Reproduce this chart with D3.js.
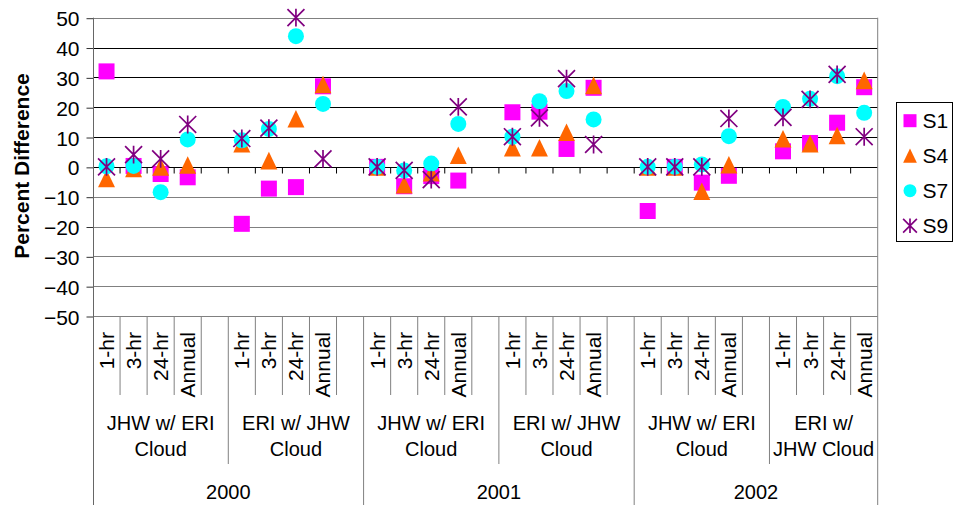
<!DOCTYPE html>
<html>
<head>
<meta charset="utf-8">
<script src="https://cdn.jsdelivr.net/npm/d3@7"></script>
<style>
body { margin: 0; background: #fff; }
text { font-family: "Liberation Sans", Arial, sans-serif; fill: #000; }
</style>
</head>
<body>
<div id="chart"></div>
<script>
// labels for the three levels of the category axis
var years = ["2000", "2001", "2002"];
var groupLabels = [
	["JHW w/ ERI", "Cloud"], ["ERI w/ JHW", "Cloud"],
	["JHW w/ ERI", "Cloud"], ["ERI w/ JHW", "Cloud"],
	["JHW w/ ERI", "Cloud"], ["ERI w/", "JHW Cloud"]
];
var periods = ["1-hr", "3-hr", "24-hr", "Annual"];
var yTicks = [50, 40, 30, 20, 10, 0, -10, -20, -30, -40, -50];

// percent difference, 4 periods per group, groups in order
var s1 = [32, 0.3, -2.4, -3.5,   -19.1, -7.3, -6.8, 27,    0, -6.5, -3.1, -4.6,   18.3, 18.5, 6, 26.5,    -14.8, 0, -5.3, -3,   5.2, 8, 14.8, 26.7];
var s4 = [-3.9, -0.5, 0, 0.6,    7.8, 2.1, 16.1, 27.6,     0, -6, -2, 3.9,        6.4, 6.4, 11.6, 27.3,   0, 0, -8.2, 0.7,      9.4, 7.8, 10.5, 29];
var s7 = [0.2, 0.3, -8.5, 9.2,   8.9, 12.7, 43.8, 21.1,    0, -1.2, 1.1, 14.4,    10.1, 22, 25.4, 15.9,   0, 0, 0.8, 10.3,      20.1, 22.8, 30.4, 18.1];
var s9 = [0, 4.1, 2.7, 14.2,     9.5, 13, 50, 2.7,         0, -1.2, -4.3, 20.1,   10.1, 16.4, 29.6, 7.5,  0, 0, 0, 16.2,        16.6, 22.6, 31, 10.1];

var seriesNames = ["S1", "S4", "S7", "S9"];
var seriesValues = [s1, s4, s7, s9];
var seriesShapes = ["square", "triangle", "circle", "star"];
var seriesColors = ["#ff00ff", "#ff6600", "#00ffff", "#800080"];

var svgWidth = 953;
var svgHeight = 505;
var plot = {left: 93, right: 877.7, top: 17.7, bottom: 316};
var slotsPerGroup = 5; // 4 periods + one empty gap
var nSlots = groupLabels.length * slotsPerGroup - 1;

var svg = d3.select("#chart")
	.append("svg")
	.attr("width", svgWidth)
	.attr("height", svgHeight);

var xScale = d3.scaleBand()
	.domain(d3.range(nSlots))
	.range([plot.left, plot.right]);

var yScale = d3.scaleLinear()
	.domain([-50, 50])
	.range([plot.bottom, plot.top]);

function slotEdge(k) {
	return plot.left + k * xScale.bandwidth();
}

// gridlines
svg.selectAll("line.grid")
	.data(yTicks)
	.enter()
	.append("line")
	.attr("class", "grid")
	.attr("x1", plot.left)
	.attr("x2", plot.right)
	.attr("y1", function(d) { return Math.round(yScale(d)) + 0.5; })
	.attr("y2", function(d) { return Math.round(yScale(d)) + 0.5; })
	.attr("stroke", function(d) { return (d >= 0 && d < 50) ? "#000" : "#808080"; })
	.attr("stroke-width", 1);

// y axis
var yAxis = d3.axisLeft(yScale)
	.tickValues(yTicks)
	.tickSize(7)
	.tickPadding(7);

var yAxisG = svg.append("g")
	.attr("transform", "translate(" + (plot.left + 0.5) + ",0.5)")
	.call(yAxis);
yAxisG.select(".domain").remove();
yAxisG.selectAll("line").attr("stroke", "#333");
yAxisG.selectAll("text")
	.style("font-size", "21px")
	.style("font-family", "'Liberation Sans', Arial, sans-serif")
	.attr("dy", "0.36em");

// left axis line runs down through the label area; right border too
svg.append("line")
	.attr("x1", plot.left + 0.5).attr("x2", plot.left + 0.5)
	.attr("y1", plot.top).attr("y2", svgHeight)
	.attr("stroke", "#666");
svg.append("line")
	.attr("x1", plot.right).attr("x2", plot.right)
	.attr("y1", plot.top).attr("y2", svgHeight)
	.attr("stroke", "#808080");

// category axis sits on the zero line, ticks pointing down
var zeroY = Math.round(yScale(0)) + 0.5;
svg.selectAll("line.ztick")
	.data(d3.range(1, nSlots))
	.enter()
	.append("line")
	.attr("class", "ztick")
	.attr("x1", function(k) { return slotEdge(k); })
	.attr("x2", function(k) { return slotEdge(k); })
	.attr("y1", zeroY)
	.attr("y2", zeroY + 6)
	.attr("stroke", "#000");

// separators below the plot for the three label levels
var seps = d3.range(1, nSlots).map(function(k) {
	var bottom = 395;
	if (k % 10 == 0) bottom = svgHeight;
	else if (k % 5 == 0) bottom = 464;
	return {k: k, bottom: bottom};
});
svg.selectAll("line.sep")
	.data(seps)
	.enter()
	.append("line")
	.attr("class", "sep")
	.attr("x1", function(d) { return slotEdge(d.k); })
	.attr("x2", function(d) { return slotEdge(d.k); })
	.attr("y1", plot.bottom)
	.attr("y2", function(d) { return d.bottom; })
	.attr("stroke", "#808080");

// period labels (rotated)
var slots = [];
groupLabels.forEach(function(g, gi) {
	periods.forEach(function(p, pi) {
		slots.push({slot: gi * slotsPerGroup + pi, label: p, idx: gi * periods.length + pi});
	});
});

svg.selectAll("text.period")
	.data(slots)
	.enter()
	.append("text")
	.attr("class", "period")
	.attr("transform", function(d) {
		return "translate(" + (xScale(d.slot) + xScale.bandwidth() / 2) + ",332) rotate(-90)";
	})
	.attr("text-anchor", "end")
	.attr("dominant-baseline", "central")
	.style("font-size", "21px")
	.text(function(d) { return d.label; });

// group labels, two lines each
var groupText = svg.selectAll("text.group")
	.data(groupLabels)
	.enter()
	.append("text")
	.attr("class", "group")
	.attr("text-anchor", "middle")
	.style("font-size", "20px");
groupText.each(function(d, gi) {
	var start = gi * slotsPerGroup;
	var end = Math.min(start + slotsPerGroup, nSlots);
	var cx = (slotEdge(start) + slotEdge(end)) / 2;
	d3.select(this).selectAll("tspan")
		.data(d)
		.enter()
		.append("tspan")
		.attr("x", cx)
		.attr("y", function(line, li) { return 429.5 + li * 26; })
		.text(function(line) { return line; });
});

// year labels
svg.selectAll("text.year")
	.data(years)
	.enter()
	.append("text")
	.attr("class", "year")
	.attr("x", function(d, i) {
		var start = i * 10;
		var end = Math.min(start + 10, nSlots);
		return (slotEdge(start) + slotEdge(end)) / 2;
	})
	.attr("y", 499)
	.attr("text-anchor", "middle")
	.style("font-size", "20px")
	.text(function(d) { return d; });

// y axis title
svg.append("text")
	.attr("transform", "translate(21.5,166) rotate(-90)")
	.attr("text-anchor", "middle")
	.attr("dominant-baseline", "central")
	.style("font-size", "21px")
	.style("font-weight", "bold")
	.text("Percent Difference");

// marker drawing
function drawMarker(g, shape, color, s) {
	if (shape == "square") {
		g.append("rect")
			.attr("x", -s / 2).attr("y", -s / 2)
			.attr("width", s).attr("height", s)
			.attr("fill", color);
	} else if (shape == "triangle") {
		var w = s * 1.06, h = s * 1.1;
		g.append("path")
			.attr("d", "M0," + (-h / 2) + "L" + (w / 2) + "," + (h / 2) + "L" + (-w / 2) + "," + (h / 2) + "Z")
			.attr("fill", color);
	} else if (shape == "circle") {
		g.append("circle")
			.attr("r", s / 2)
			.attr("fill", color);
	} else {
		var r = s * 0.53;
		g.append("path")
			.attr("d", "M" + (-r) + "," + (-r) + "L" + r + "," + r +
				"M" + r + "," + (-r) + "L" + (-r) + "," + r +
				"M0," + (-r * 1.05) + "L0," + (r * 1.05))
			.attr("stroke", color)
			.attr("stroke-width", 1.7)
			.attr("fill", "none");
	}
}

// points, S1 drawn first so S9 ends on top
seriesValues.forEach(function(values, si) {
	svg.selectAll("g.pt" + si)
		.data(slots)
		.enter()
		.append("g")
		.attr("class", "pt" + si)
		.attr("transform", function(d) {
			return "translate(" + (xScale(d.slot) + xScale.bandwidth() / 2) + "," + yScale(values[d.idx]) + ")";
		})
		.each(function() {
			drawMarker(d3.select(this), seriesShapes[si], seriesColors[si], 16);
		});
});

// legend
var legend = svg.append("g");
legend.append("rect")
	.attr("x", 896.5).attr("y", 102.5)
	.attr("width", 56).attr("height", 139)
	.attr("fill", "#fff")
	.attr("stroke", "#000");

var legendItems = legend.selectAll("g.item")
	.data(seriesNames)
	.enter()
	.append("g")
	.attr("class", "item")
	.attr("transform", function(d, i) { return "translate(910," + (120.7 + i * 35) + ")"; });
legendItems.each(function(d, i) {
	drawMarker(d3.select(this), seriesShapes[i], seriesColors[i], 13);
});
legendItems.append("text")
	.attr("x", 12.5)
	.attr("dy", "0.36em")
	.style("font-size", "21px")
	.text(function(d) { return d; });
</script>
</body>
</html>
